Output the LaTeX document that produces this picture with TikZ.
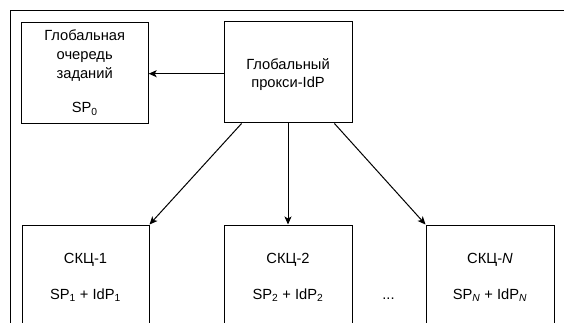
\documentclass[tikz,border=0pt]{standalone}
\usepackage{fontspec}
\setmainfont{Liberation Sans}
\usetikzlibrary{arrows.meta,calc}
\begin{document}
\begin{tikzpicture}[x=1pt,y=-1pt,
  box/.style={draw,line width=1pt,rectangle,inner sep=0pt,minimum width=127pt},
  lbl/.style={inner sep=0pt,anchor=base,font=\fontsize{14.7}{18.5}\selectfont},
  arr/.style={line width=1pt,-{Stealth[length=8pt,width=7pt,inset=2pt]}}]
\useasboundingbox (0,0) rectangle (564,323);
\clip (0,0) rectangle (564,323);
% enclosing frame, continues past the right and lower edges
\draw[line width=1.2pt] (10.5,400) -- (10.5,10.5) -- (600,10.5);
% top row
\node[box,minimum height=101.5pt] (queue) at (84.7,72.8) {};
\node[box,minimum width=128pt,minimum height=101pt] (proxy) at (288,72.5) {};
\node[lbl] (q1) at (84.7,41) {Глобальная};
\node[lbl] (q2) at (84.7,59.7) {очередь};
\node[lbl] (q3) at (84.7,78.3) {заданий};
\node[lbl] (q4) at (84.7,113) {SP\textsubscript{0}};
\node[lbl] (p1) at (288,69.5) {Глобальный};
\node[lbl] (p2) at (288,88) {прокси-IdP};
% lower row of service centres
\node[box,minimum height=130pt,anchor=north] (c1) at (85.5,224.5) {};
\node[box,minimum width=128pt,minimum height=130pt,anchor=north] (c2) at (288,224.5) {};
\node[box,minimum width=128pt,minimum height=130pt,anchor=north] (cn) at (490,224.5) {};
\node[lbl] (c1a) at (85.5,263.5) {СКЦ-1};
\node[lbl] (c1b) at (85.5,299.5) {SP\textsubscript{1} + IdP\textsubscript{1}};
\node[lbl] (c2a) at (288,263.5) {СКЦ-2};
\node[lbl] (c2b) at (288,299.5) {SP\textsubscript{2} + IdP\textsubscript{2}};
\node[lbl] (cna) at (490,263.5) {СКЦ-\textit{N}};
\node[lbl] (cnb) at (490,299.5) {SP\textsubscript{\textit{N}} + IdP\textsubscript{\textit{N}}};
\node[lbl] (dots) at (388.5,299.5) {...};
% connectors
\draw[arr] ($(proxy.west)+(0,1.2)$) -- ($(proxy.west -| queue.east)+(0,1.2)$);
\draw[arr] ($(proxy.south west)!0.14!(proxy.south east)$) -- (c1.north east);
\draw[arr] (proxy.south) -- (c2.north);
\draw[arr] ($(proxy.south west)!0.86!(proxy.south east)$) -- (cn.north west);
\end{tikzpicture}
\end{document}
